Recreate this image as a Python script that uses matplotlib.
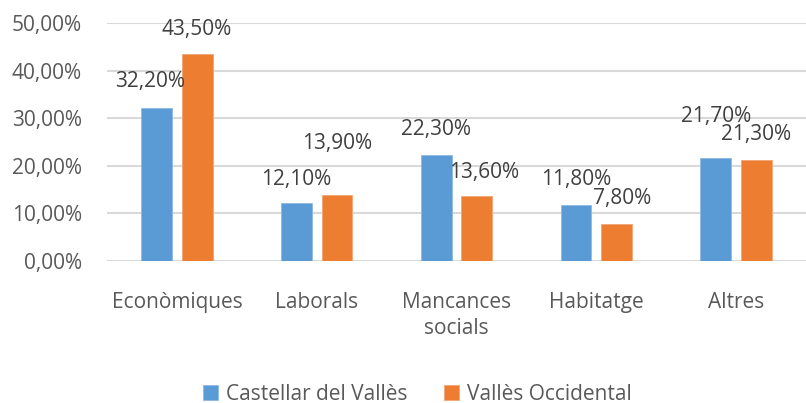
import numpy as np
import matplotlib
matplotlib.use("Agg")
import matplotlib.pyplot as plt
from matplotlib.ticker import FuncFormatter

# Data
categories = ["Econòmiques", "Laborals", "Mancances\nsocials", "Habitatge", "Altres"]
castellar = [32.2, 12.1, 22.3, 11.8, 21.7]
valles = [43.5, 13.9, 13.6, 7.8, 21.3]
series_names = ["Castellar del Vallès", "Vallès Occidental"]

# label nudges (pixels) so they sit like the excel original
castellar_off = [(-7, 26), (0, 24), (0, 25), (0, 25), (0, 41)]
valles_off = [(-1, 24), (0, 51), (7, 24), (6, 25), (0, 25)]

plt.rcParams['font.family'] = ['Open Sans', 'DejaVu Sans']
blue = "#5B9BD5"
orange = "#ED7D31"
txt = "#595959"

fig = plt.figure(figsize=(8.06, 4.03), dpi=100)
ax = fig.add_axes([107/806, 1-261/403, 699/806, 238/403])

x = np.arange(len(categories))
w = 0.22
off = 0.145
b1 = ax.bar(x - off, castellar, w, color=blue, edgecolor="#8DB9E3", linewidth=0.6,
            label=series_names[0], zorder=3)
b2 = ax.bar(x + off, valles, w, color=orange, edgecolor="#F3A574", linewidth=0.6,
            label=series_names[1], zorder=3)

def fmt(v):
    return ("%.2f%%" % v).replace(".", ",")

for xs, vals, offs in [(x - off, castellar, castellar_off), (x + off, valles, valles_off)]:
    for xi, v, (dx, dy) in zip(xs, vals, offs):
        ax.annotate(fmt(v), (xi, v), xytext=(dx, dy), textcoords='offset pixels',
                    ha='center', va='center', fontsize=15, color="#404040")

ax.set_xlim(-0.5, len(categories) - 0.5)
ax.set_ylim(0, 50)
ax.set_yticks(np.arange(0, 51, 10))
ax.yaxis.set_major_formatter(FuncFormatter(lambda v, p: fmt(v)))
ax.set_xticks(x)
ax.set_xticklabels(categories, linespacing=1.35)
ax.tick_params(axis='y', length=0, pad=18, labelsize=15, labelcolor=txt)
ax.tick_params(axis='x', length=0, pad=22, labelsize=15, labelcolor=txt)
ax.grid(axis='y', color="#D9D9D9", linewidth=1.5, zorder=0)
for s in ax.spines.values():
    s.set_visible(False)

leg = fig.legend(loc='center', bbox_to_anchor=(417.5/806, 1-394/403), ncol=2, frameon=False,
                 fontsize=15, handlelength=0.7, handleheight=0.7, handletextpad=0.4,
                 columnspacing=1.75, labelcolor=txt)

fig.savefig("out.png", dpi=100)
